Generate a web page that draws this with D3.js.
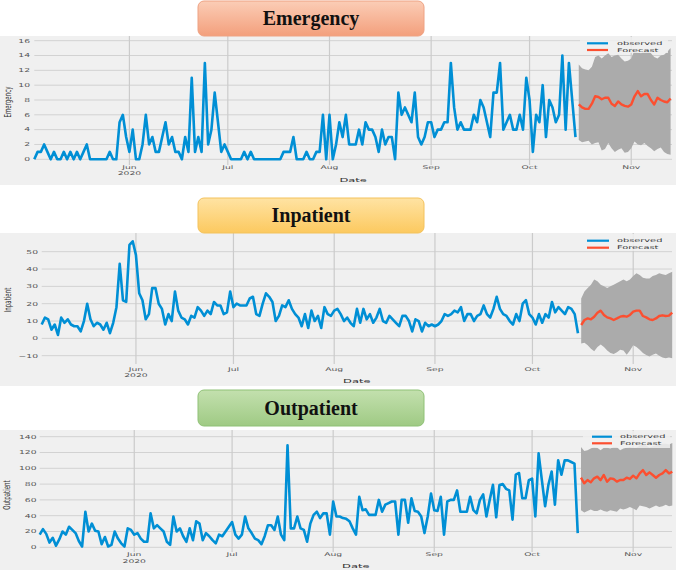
<!DOCTYPE html>
<html><head><meta charset="utf-8">
<script src="https://cdn.jsdelivr.net/npm/d3@7"></script>
<style>body{margin:0;background:#fff}svg{display:block}</style>
</head><body><svg id="c" width="676" height="570"></svg>
<script>
// ---------- DATA ----------
const startDate = "2020-05-03";          // first observed day
const forecastStartDate = "2020-10-16";  // first forecast day
const monthTicks = ["2020-06-01","2020-07-01","2020-08-01","2020-09-01","2020-10-01","2020-11-01"];
const monthTickLabels = ["Jun","Jul","Aug","Sep","Oct","Nov"];
const yearTickLabel = "2020";
const seriesNames = ["observed","Forecast"];
const panelTitles = ["Emergency","Inpatient","Outpatient"];

const emergencyObserved = [0,1,1,2,1,0,1,0,0,1,0,1,0,1,0,1,2,0,0,0,0,0,0,1,0,0,5,6,3,1,4,0,0,2,6,2,3,1,1,3,5,2,3,1,1,0,3,1,11,1,3,1,13,2,4,9,5,1,2,1,0,0,0,0,1,0,1,0,0,0,0,0,0,0,0,0,1,1,1,3,0,0,0,1,0,0,1,1,6,0,6,0,2,5,3,6,2,2,2,4,2,5,4,4,3,1,4,2,3,3,0,9,6,7,6,5,9,3,2,3,5,5,3,4,4,5,5,13,7,4,5,4,4,4,6,5,8,7,5,3,9,9,13,4,5,6,4,4,6,4,11,8,1,6,5,10,3,8,7,5,6,14,4,13,8,3];
const emergencyForecast = [7.4,7.0,6.8,6.8,7.5,8.5,8.4,8.1,8.3,8.3,7.5,7.2,7.8,7.4,7.2,7.1,7.4,8.5,9.2,8.5,8.8,8.8,8.0,7.4,8.3,8.0,7.8,7.7,8.2];
const emergencyUpper = [12.8,12.3,12.1,12.0,12.5,13.8,14.0,13.6,14.0,14.3,13.8,14.0,14.1,13.6,13.2,13.3,13.6,14.7,14.4,14.3,14.6,14.7,14.3,13.8,13.6,14.0,14.1,14.5,15.0];
const emergencyLower = [2.6,2.3,2.4,2.5,2.0,2.2,2.3,1.2,1.4,2.2,1.5,1.0,1.3,1.5,0.9,1.0,1.5,2.4,2.0,1.9,2.2,1.8,1.5,1.1,1.4,1.6,1.0,0.7,0.6];
const emergencyTicks = [0,2,4,6,8,10,12,14,16];

const inpatientObserved = [8,12,11,5,8,2,12,9,11,8,7,7,4,10,20,11,7,9,8,5,9,3,9,18,43,22,21,54,56,48,26,22,11,14,29,29,20,17,8,14,10,27,16,12,11,8,13,12,18,16,13,16,14,21,19,19,14,15,27,18,20,19,19,19,23,24,14,13,20,26,24,21,10,13,19,18,22,17,14,12,7,14,6,16,10,13,6,18,14,13,16,17,14,
10,12,9,7,17,9,17,11,14,9,12,17,10,9,13,11,9,7,13,13,10,4,11,10,4,9,7,8,7,8,10,14,13,14,16,15,18,10,14,14,10,13,14,19,14,12,17,24,17,14,13,10,8,14,10,20,22,14,12,8,14,9,14,12,21,15,18,16,14,18,17,14,3];
const inpatientForecast = [7.7,10.6,11.5,11,12.5,14.8,16,13.5,12.1,11.5,10.6,11.5,12.5,12.9,12.5,13.5,15.4,16,16,12.9,12.1,11,10.6,11.5,12.9,13.3,12.9,13.1,14.8];
const inpatientUpper = [23,27,29,31,34,33,31,30,29,30,31,32,33,34,33,34,36,37.5,36.5,35,34.6,34.6,36,36.5,37.5,37,36.5,37.5,38.5];
const inpatientLower = [-3,-2.5,-4,-6,-7.5,-5,-3.5,-5,-7,-8.5,-9,-8,-6.5,-7,-9.5,-7,-4,-5,-6.5,-8.5,-9.6,-10.5,-9.5,-8.7,-10,-11,-11.5,-11,-11.5];
const inpatientTicks = [-10,0,10,20,30,40,50];

const outpatientObserved = [16,23,17,6,12,2,10,20,16,26,22,18,8,1,45,20,30,21,20,4,13,1,3,20,11,5,1,24,22,16,18,11,7,7,43,24,28,24,20,7,3,39,20,24,14,7,24,9,33,30,9,18,14,9,5,16,14,20,26,32,16,11,16,39,24,18,11,9,4,14,28,28,22,39,16,9,129,24,24,39,24,22,7,30,41,45,37,43,43,16,58,39,
39,37,36,33,24,16,64,47,48,41,41,41,60,45,54,56,58,58,16,60,60,31,62,46,45,39,18,39,68,47,46,64,16,58,60,60,72,45,45,45,64,47,43,60,67,39,60,79,38,79,80,74,72,35,92,94,62,62,85,87,39,119,85,52,79,96,54,110,92,110,110,108,106,18];
const outpatientForecast = [88.1,81,85.2,82.2,87.3,89.4,85,91.5,83,87.3,86.5,83.1,85.2,85.2,88.1,86.5,90.7,87.3,93.6,97.8,91.5,94.9,91.5,88.1,91.5,93.6,97.8,93.6,95.7];
const outpatientUpper = [127,122,123,125,127,126,123,126,126,125,127,127,123,125,126,127,126,126,129,130,129,126,128,129,130,131,131,130,132];
const outpatientLower = [47,44,46,48,46,46,48,46,45,47,46,45,49,48,49,51,49,47,53,52,51,49,51,53,51,52,54,52,53];
const outpatientTicks = [0,20,40,60,80,100,120,140];

// ---------- LAYOUT ----------
const parse = d3.timeParse("%Y-%m-%d");
const t0 = parse(startDate), tF = parse(forecastStartDate), tEnd = d3.timeDay.offset(t0, 194);

const panels = [
  {title:panelTitles[0], obs:emergencyObserved, fc:emergencyForecast, lo:emergencyLower, hi:emergencyUpper, ticks:emergencyTicks,
   bg:[36,185], plot:[36,165], xr:[34.3,670.6], yd:[0,16], yr:[159.3,40.7], tickRight:30,
   junY:167.6, yearY:173.8, dateY:179.9, ylab:[8,102], legY:[43.3,50], legX:[587,608,617], legBox:[580,37,88,16],
   box:[198,1,226,35], titleY:25, grad:["#fbcdb6","#f39f7c"], stroke:"#eea283"},
  {title:panelTitles[1], obs:inpatientObserved, fc:inpatientForecast, lo:inpatientLower, hi:inpatientUpper, ticks:inpatientTicks,
   bg:[233,386], plot:[233,364], xr:[41.7,672.2], yd:[-10,50], yr:[355.7,251.7], tickRight:38,
   junY:369.2, yearY:375.4, dateY:381.3, ylab:[8,300], legY:[240.7,247.7], legX:[587,609,617], legBox:[580,234,88,17],
   box:[198,198,226,35], titleY:222.3, grad:["#ffe3a3","#fcc95f"], stroke:"#f3c25c"},
  {title:panelTitles[2], obs:outpatientObserved, fc:outpatientForecast, lo:outpatientLower, hi:outpatientUpper, ticks:outpatientTicks,
   bg:[430,570], plot:[430,552], xr:[39.7,672.3], yd:[0,140], yr:[547.3,436.7], tickRight:36.5,
   junY:554.8, yearY:561, dateY:566.4, ylab:[7,495], legY:[436.7,443.3], legX:[592,612,620], legBox:[583,431,87,17],
   box:[198,390,226,36], titleY:415, grad:["#c3e0ae","#9fca84"], stroke:"#8fc176"}
];

const svg = d3.select("#c");
const defs = svg.append("defs");
const BLUE = "#008fd5", RED = "#fc4f30";
const SX = 0.92, SY = 0.5;

function stext(g, x, y, str, opt) {
  opt = opt || {};
  const sx = opt.sx || SX, sy = opt.sy || SY;
  return g.append("text")
    .attr("transform", `translate(${x},${y})` + (opt.rot ? ` rotate(${opt.rot})` : "") + ` scale(${sx},${sy})`)
    .attr("text-anchor", opt.anchor || "middle")
    .attr("dominant-baseline", "central")
    .style("font-family", "'DejaVu Sans', sans-serif")
    .style("font-size", (opt.size || 10) + "px")
    .style("fill", opt.fill || "#555")
    .text(str);
}

panels.forEach((p, pi) => {
  const g = svg.append("g");
  const x = d3.scaleTime().domain([t0, tEnd]).range(p.xr);
  const y = d3.scaleLinear().domain(p.yd).range(p.yr);
  const left = p.xr[0], right = 672;

  // background
  g.append("rect").attr("x", 0).attr("y", p.bg[0]).attr("width", 676).attr("height", p.bg[1] - p.bg[0]).attr("fill", "#f0f0f0");

  // horizontal grid
  g.selectAll(".hg").data(p.ticks).join("line")
    .attr("x1", left).attr("x2", right)
    .attr("y1", d => y(d)).attr("y2", d => y(d))
    .attr("stroke", "#d2d2d2").attr("stroke-width", 1);
  // vertical grid
  const mt = monthTicks.map(parse);
  g.selectAll(".vg").data(mt).join("line")
    .attr("x1", d => x(d)).attr("x2", d => x(d))
    .attr("y1", p.plot[0]).attr("y2", p.plot[1])
    .attr("stroke", "#cbcbcb").attr("stroke-width", 1.2);

  // y tick labels
  p.ticks.forEach(t => {
    stext(g, p.tickRight, y(t), t < 0 ? "\u2212" + Math.abs(t) : String(t), {anchor: "end", sy: 0.55});
  });
  // x tick labels
  mt.forEach((d, i) => {
    stext(g, x(d), p.junY, monthTickLabels[i]);
  });
  stext(g, x(mt[0]), p.yearY, yearTickLabel);
  // axis labels
  stext(g, (left + right) / 2, p.dateY, "Date", {sx: 1.15, fill: "#333"});
  stext(g, p.ylab[0], p.ylab[1], p.title, {rot: -90, sx: 0.55, sy: 0.95, fill: "#333"});

  // forecast band
  const fdates = p.fc.map((v, i) => d3.timeDay.offset(tF, i));
  const band = d3.area().x((d, i) => x(fdates[i])).y0((d, i) => y(p.lo[i])).y1((d, i) => y(p.hi[i]));
  g.append("path").datum(p.fc).attr("d", band).attr("fill", "#ababab");

  // observed line
  const line = d3.line().x((d, i) => x(d3.timeDay.offset(t0, i))).y(d => y(d));
  g.append("path").datum(p.obs).attr("d", line).attr("fill", "none")
    .attr("stroke", BLUE).attr("stroke-width", 2.6).attr("stroke-linejoin", "round");
  // forecast line
  const fline = d3.line().x((d, i) => x(fdates[i])).y(d => y(d));
  g.append("path").datum(p.fc).attr("d", fline).attr("fill", "none")
    .attr("stroke", RED).attr("stroke-width", 2.4).attr("stroke-linejoin", "round");

  // legend
  const lb = p.legBox;
  g.append("rect").attr("x", lb[0]).attr("y", lb[1]).attr("width", lb[2]).attr("height", lb[3])
    .attr("fill", "#f0f0f0").attr("opacity", 0.85);
  [BLUE, RED].forEach((c, i) => {
    g.append("line").attr("x1", p.legX[0]).attr("x2", p.legX[1]).attr("y1", p.legY[i]).attr("y2", p.legY[i])
      .attr("stroke", c).attr("stroke-width", 2.2);
    stext(g, p.legX[2], p.legY[i], seriesNames[i], {anchor: "start", sx: 0.98, sy: 0.5, fill: "#333"});
  });

  // title box
  const gid = "grad" + pi;
  const lg = defs.append("linearGradient").attr("id", gid).attr("x1", 0).attr("y1", 0).attr("x2", 0).attr("y2", 1);
  lg.append("stop").attr("offset", "0%").attr("stop-color", p.grad[0]);
  lg.append("stop").attr("offset", "100%").attr("stop-color", p.grad[1]);
  svg.append("rect").attr("x", p.box[0]).attr("y", p.box[1]).attr("width", p.box[2]).attr("height", p.box[3])
    .attr("rx", 6).attr("fill", `url(#${gid})`).attr("stroke", p.stroke).attr("stroke-width", 1);
  svg.append("text").attr("x", p.box[0] + p.box[2] / 2).attr("y", p.titleY)
    .attr("text-anchor", "middle")
    .style("font-family", "'Liberation Serif', 'DejaVu Serif', serif").style("font-weight", "bold")
    .style("font-size", "20px").style("fill", "#111").text(p.title);
});
</script></body></html>
